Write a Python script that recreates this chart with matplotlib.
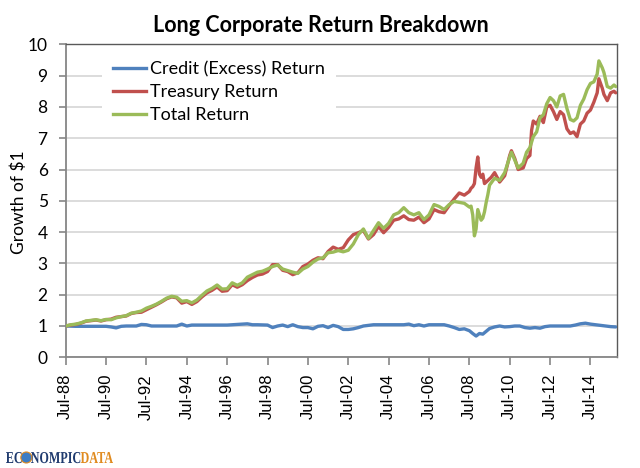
import matplotlib
matplotlib.use("Agg")
import matplotlib.pyplot as plt
from matplotlib.textpath import TextPath
from matplotlib.patches import PathPatch, Circle
from matplotlib.font_manager import FontProperties
from matplotlib.transforms import Affine2D
from matplotlib.lines import Line2D

# ---------------- data ----------------
total_dates = ["1988-07","1988-10","1989-01","1989-04","1989-07","1989-10","1990-01","1990-04","1990-07","1990-10",
               "1991-01","1991-04","1991-07","1991-10","1992-01","1992-04","1992-07","1992-10","1993-01","1993-04",
               "1993-07","1993-10","1994-01","1994-04","1994-07","1994-10","1995-01","1995-04","1995-07","1995-10",
               "1996-01","1996-04","1996-07","1996-10","1997-01","1997-04","1997-07","1997-10","1998-01","1998-04",
               "1998-07","1998-10","1999-01","1999-04","1999-07","1999-10","2000-01","2000-04","2000-07","2000-10",
               "2001-01","2001-04","2001-07","2001-10","2002-01","2002-04","2002-07","2002-10","2003-01","2003-04",
               "2003-07","2003-10","2004-01","2004-04","2004-07","2004-10","2005-01","2005-04","2005-07","2005-10",
               "2006-01","2006-04","2006-07","2006-10","2007-01","2007-04","2007-07","2007-10","2008-01","2008-04",
               "2008-07","2008-08","2008-09","2008-10","2008-11","2008-12","2009-01","2009-02","2009-03","2009-04",
               "2009-05","2009-06","2009-07","2009-10","2010-01","2010-04","2010-07","2010-08","2010-10","2010-12",
               "2011-03","2011-05","2011-07","2011-09","2011-11","2012-01","2012-03","2012-05","2012-07","2012-09",
               "2012-11","2013-01","2013-03","2013-05","2013-07","2013-09","2013-11","2014-01","2014-03","2014-05",
               "2014-07","2014-09","2014-11","2014-12","2015-02","2015-03","2015-05","2015-07","2015-09","2015-10"]
total_return = [1.00,1.04,1.06,1.10,1.16,1.18,1.20,1.17,1.21,1.20,
                1.26,1.30,1.33,1.41,1.44,1.48,1.57,1.63,1.70,1.79,
                1.89,1.95,1.92,1.79,1.81,1.74,1.83,1.98,2.12,2.20,
                2.31,2.18,2.19,2.38,2.30,2.38,2.56,2.64,2.72,2.75,
                2.82,2.90,2.95,2.82,2.77,2.72,2.68,2.82,2.90,3.04,
                3.14,3.18,3.34,3.36,3.41,3.37,3.42,3.62,3.92,4.10,
                3.80,4.05,4.30,4.12,4.28,4.55,4.62,4.78,4.62,4.55,
                4.62,4.40,4.55,4.88,4.82,4.72,4.88,4.98,4.95,4.92,
                4.80,4.83,4.55,3.88,4.10,4.72,4.55,4.38,4.45,4.65,
                4.95,5.20,5.50,5.72,5.65,5.90,6.40,6.55,6.30,6.05,
                6.20,6.55,6.70,7.05,7.20,7.65,7.75,8.10,8.30,8.20,
                8.00,8.35,8.40,7.95,7.60,7.55,7.65,8.05,8.25,8.55,
                8.75,8.80,9.05,9.47,9.25,9.10,8.65,8.60,8.70,8.65]

treasury_dates = ["1988-07","1988-10","1989-01","1989-04","1989-07","1989-10","1990-01","1990-04","1990-07","1990-10",
                  "1991-01","1991-04","1991-07","1991-10","1992-01","1992-04","1992-07","1992-10","1993-01","1993-04",
                  "1993-07","1993-10","1994-01","1994-04","1994-07","1994-10","1995-01","1995-04","1995-07","1995-10",
                  "1996-01","1996-04","1996-07","1996-10","1997-01","1997-04","1997-07","1997-10","1998-01","1998-04",
                  "1998-07","1998-10","1999-01","1999-04","1999-07","1999-10","2000-01","2000-04","2000-07","2000-10",
                  "2001-01","2001-04","2001-07","2001-10","2002-01","2002-04","2002-07","2002-10","2003-01","2003-04",
                  "2003-07","2003-10","2004-01","2004-04","2004-07","2004-10","2005-01","2005-04","2005-07","2005-10",
                  "2006-01","2006-04","2006-07","2006-10","2007-01","2007-04","2007-07","2007-10","2008-01","2008-04",
                  "2008-07","2008-08","2008-09","2008-10","2008-11","2008-12","2009-01","2009-02","2009-03","2009-04",
                  "2009-06","2009-08","2009-10","2010-01","2010-04","2010-07","2010-08","2010-10","2010-12","2011-03",
                  "2011-05","2011-07","2011-08","2011-09","2011-11","2012-01","2012-03","2012-05","2012-07","2012-09",
                  "2012-11","2013-01","2013-03","2013-05","2013-07","2013-09","2013-11","2014-01","2014-03","2014-05",
                  "2014-07","2014-09","2014-11","2014-12","2015-02","2015-03","2015-05","2015-07","2015-09","2015-10"]
treasury_return = [1.00,1.03,1.05,1.09,1.15,1.17,1.19,1.16,1.20,1.22,
                   1.28,1.30,1.32,1.40,1.43,1.44,1.52,1.60,1.68,1.77,
                   1.87,1.93,1.90,1.73,1.78,1.69,1.78,1.93,2.06,2.14,
                   2.25,2.11,2.13,2.32,2.24,2.32,2.45,2.55,2.63,2.66,
                   2.74,2.96,2.96,2.78,2.74,2.64,2.70,2.90,2.98,3.10,
                   3.18,3.15,3.38,3.52,3.45,3.50,3.75,3.92,3.98,4.05,
                   3.78,3.92,4.18,3.98,4.15,4.38,4.42,4.52,4.40,4.38,
                   4.48,4.30,4.42,4.72,4.65,4.62,4.85,5.06,5.25,5.18,
                   5.30,5.40,5.45,5.55,6.05,6.40,5.85,5.75,5.85,5.55,
                   5.65,5.75,5.90,5.60,5.80,6.45,6.60,6.35,6.00,6.05,
                   6.35,6.45,7.25,7.55,7.45,7.70,7.50,8.00,8.05,7.85,
                   7.60,7.85,7.75,7.30,7.15,7.20,7.05,7.45,7.55,7.80,
                   7.90,8.15,8.45,8.90,8.60,8.40,8.20,8.45,8.50,8.45]

credit_dates = ["1988-07","1989-01","1989-07","1990-01","1990-07","1990-10","1991-01","1991-04","1991-07","1992-01",
                "1992-04","1992-07","1992-10","1993-07","1994-01","1994-04","1994-07","1994-10","1995-07","1996-07",
                "1997-07","1997-10","1998-01","1998-07","1998-10","1999-01","1999-04","1999-07","1999-10","2000-01",
                "2000-04","2000-07","2000-10","2001-01","2001-04","2001-07","2001-10","2002-01","2002-04","2002-07",
                "2002-10","2003-01","2003-04","2003-07","2003-10","2004-07","2005-04","2005-07","2005-10","2006-01",
                "2006-04","2006-07","2007-04","2007-07","2007-10","2008-01","2008-04","2008-07","2008-09","2008-11",
                "2009-01","2009-03","2009-05","2009-07","2009-10","2010-01","2010-04","2010-07","2010-10","2011-01",
                "2011-04","2011-07","2011-10","2012-01","2012-04","2012-07","2013-01","2013-07","2013-10","2014-01",
                "2014-04","2014-07","2014-10","2015-01","2015-04","2015-07","2015-10"]
credit_return = [1.00,0.99,0.99,0.99,0.99,0.97,0.94,0.99,1.00,1.00,
                 1.05,1.04,1.00,1.00,1.00,1.06,1.00,1.03,1.03,1.03,
                 1.07,1.04,1.04,1.03,0.95,1.00,1.03,0.98,1.04,0.98,
                 0.95,0.95,0.91,0.99,1.01,0.95,1.02,0.98,0.89,0.89,
                 0.91,0.95,1.00,1.02,1.04,1.04,1.04,1.06,1.01,1.04,
                 1.00,1.04,1.04,1.00,0.95,0.89,0.91,0.85,0.76,0.68,
                 0.76,0.74,0.83,0.92,0.97,1.00,0.97,0.98,1.00,1.00,
                 0.95,0.93,0.95,0.93,0.98,1.00,1.00,1.00,1.03,1.07,
                 1.09,1.06,1.04,1.02,1.00,0.98,0.97]

tick_years = [1988,1990,1992,1994,1996,1998,2000,2002,2004,2006,2008,2010,2012,2014]
tick_labels = ["Jul-88","Jul-90","Jul-92","Jul-94","Jul-96","Jul-98","Jul-00",
               "Jul-02","Jul-04","Jul-06","Jul-08","Jul-10","Jul-12","Jul-14"]
series_names = ["Credit (Excess) Return", "Treasury Return", "Total Return"]


def to_year(s):
    y, m = s.split("-")
    return int(y) + (int(m) - 1) / 12.0


W, H = 640, 468
fig = plt.figure(figsize=(W / 100, H / 100), dpi=100)
fig.patch.set_facecolor("white")

L, R, T, B = 65.7, 616.7, 44.3, 357.3
ax = fig.add_axes([L / W, 1 - B / H, (R - L) / W, (B - T) / H])

blue, red, green = "#4F81BD", "#C0504D", "#9BBB59"
lw = 2.4
kw = dict(lw=lw, solid_joinstyle="round", solid_capstyle="round")
ax.plot([to_year(d) for d in credit_dates], credit_return, color=blue, zorder=3, **kw)
ax.plot([to_year(d) for d in treasury_dates], treasury_return, color=red, zorder=4, **kw)
ax.plot([to_year(d) for d in total_dates], total_return, color=green, zorder=5, **kw)

ax.set_xlim(1988.5, 2015.8)
ax.set_ylim(0, 10)
ax.set_yticks(range(0, 11))
ax.set_xticks([y + 0.5 for y in tick_years])
ax.set_xticklabels(tick_labels, rotation=90, fontfamily="Liberation Sans", fontsize=12)
for t in ax.get_yticklabels():
    t.set_fontfamily("Lato")
    t.set_fontsize(12.5)

ax.yaxis.grid(True, color="#D9D9D9", lw=1.3)
ax.set_axisbelow(True)
for s in ["left", "bottom"]:
    ax.spines[s].set_color("#868686")
    ax.spines[s].set_linewidth(1.3)
for s in ["top", "right"]:
    ax.spines[s].set_color("#595959")
    ax.spines[s].set_linewidth(1.0)
ax.tick_params(axis="y", length=5, width=1.2, color="#868686", pad=8)
ax.tick_params(axis="x", length=5.5, width=1.2, color="#868686", pad=6.5)

fig.text(18.3 / W, 1 - 201.7 / H, "Growth of $1", rotation=90, ha="center", va="center",
         fontfamily="Lato", fontsize=12.5)

fig.text(321 / W, 1 - 25 / H, "Long Corporate Return Breakdown", ha="center", va="center",
         fontfamily="Lato", fontweight="bold", fontsize=15.5)

handles = [Line2D([], [], color=c, lw=lw) for c in (blue, red, green)]
leg = ax.legend(handles, series_names, loc="upper left",
                bbox_to_anchor=(102 / W, 1 - 50 / H), bbox_transform=fig.transFigure,
                frameon=True, fancybox=False, edgecolor="none", facecolor="white", framealpha=1,
                prop=FontProperties(family="Lato", size=13), handlelength=1.85, handletextpad=0.22,
                labelspacing=0.4, borderpad=0.6, borderaxespad=0)
leg.set_zorder(10)

# ---------------- logo ----------------
fp = FontProperties(family="Liberation Serif", weight="bold")
pieces = [("EC", "#1F3A6E"), ("O", None), ("NOMPIC", "#1F3A6E"), ("DATA", "#E08A1E")]
paths = [TextPath((0, 0), s, size=10, prop=fp) for s, _ in pieces]
widths = [p.get_extents().width for p in paths]
gap = 0.4
total_w = sum(widths) + gap * (len(widths) - 1)
sx = 107.0 / total_w
sy = 11.0 / 6.6
px_to_disp = Affine2D().scale(1 / 100.0) + fig.dpi_scale_trans
x = 6.0
y0 = H - 463.0
for (s, c), p, w in zip(pieces, paths, widths):
    ext = p.get_extents()
    if c is None:
        cx = x + (w * sx) / 2
        cy = y0 + 5.5
        circ = Circle((cx, cy), 5.5, transform=px_to_disp, facecolor="#3C7CC4", edgecolor="#E08A1E", lw=0.8)
        fig.add_artist(circ)
    else:
        tr = Affine2D().translate(-ext.x0, 0).scale(sx, sy).translate(x, y0) + px_to_disp
        fig.add_artist(PathPatch(p, transform=tr, facecolor=c, edgecolor="none"))
    x += (w + gap) * sx

fig.savefig("out.png", dpi=100, facecolor="white")
